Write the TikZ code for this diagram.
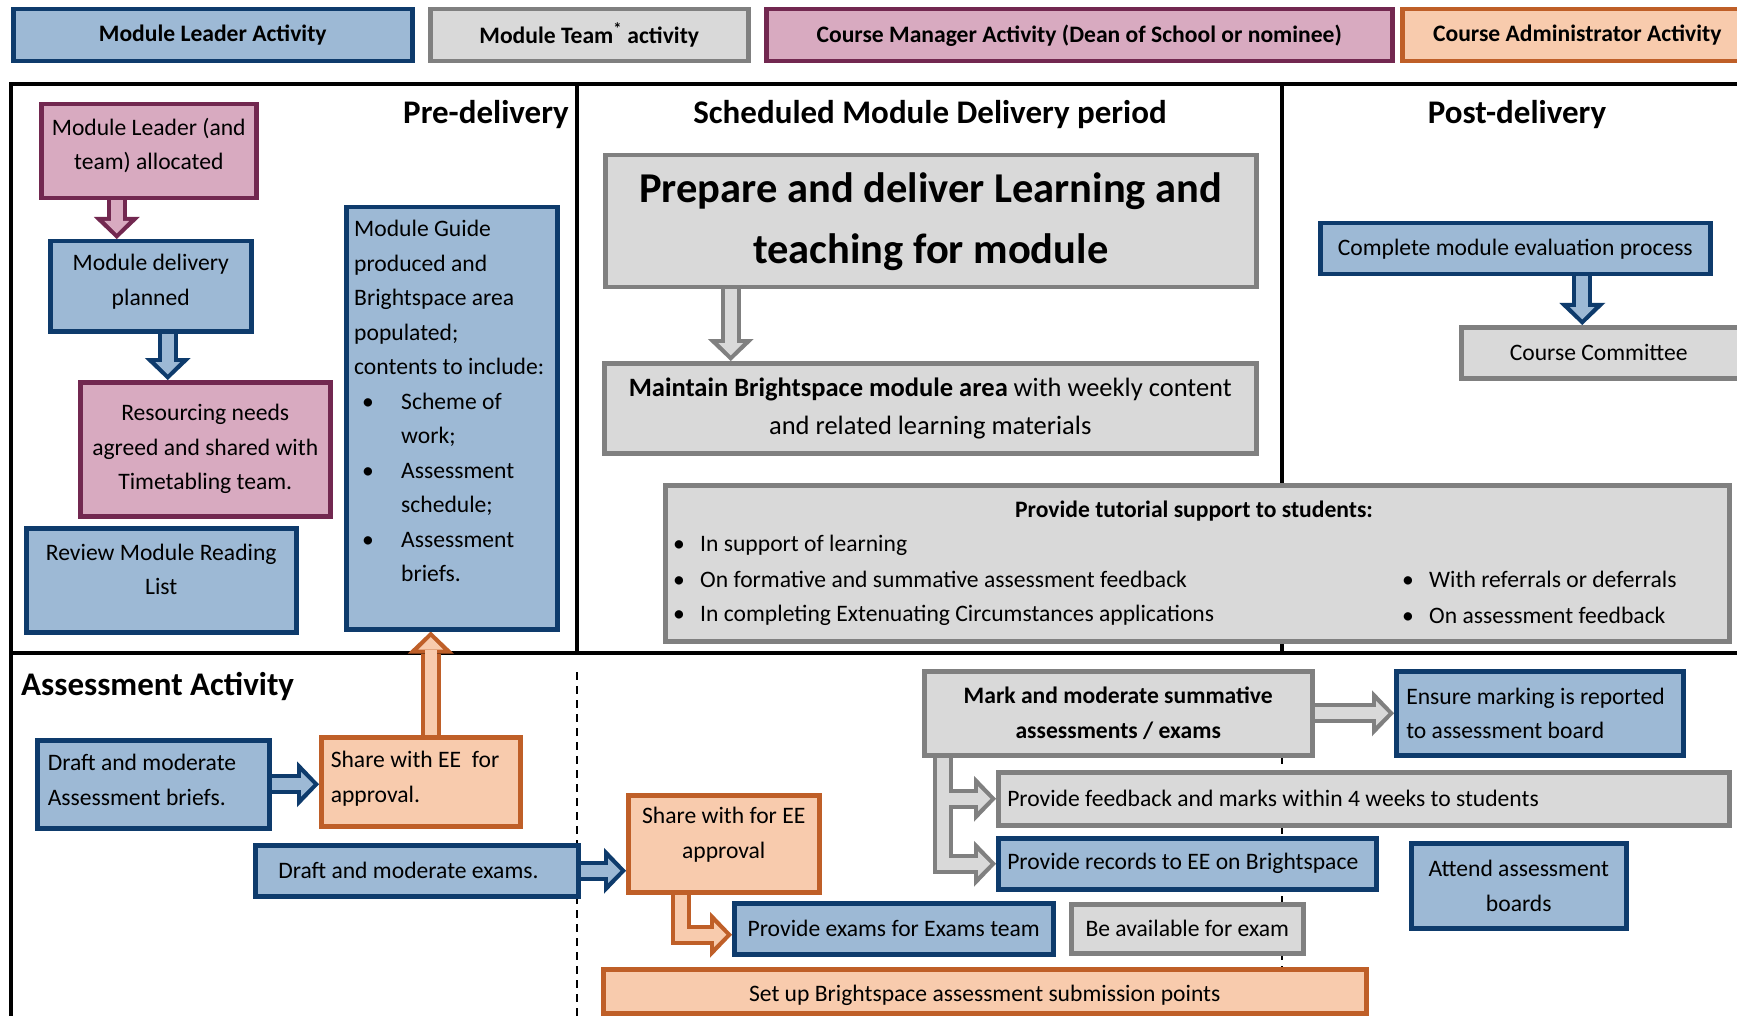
\documentclass[tikz,border=0pt]{standalone}
\usepackage{fontspec}
\setmainfont{Carlito}
\usetikzlibrary{arrows.meta}
\pgfdeclarelayer{back}
\pgfdeclarelayer{links}
\pgfsetlayers{back,links,main}

\definecolor{leadfill}{HTML}{9DB9D5}
\definecolor{leadline}{HTML}{0E3B6C}
\definecolor{teamfill}{HTML}{D9D9D9}
\definecolor{teamline}{HTML}{808080}
\definecolor{mgrfill}{HTML}{D8AAC0}
\definecolor{mgrline}{HTML}{722850}
\definecolor{adminfill}{HTML}{F8CBAD}
\definecolor{adminline}{HTML}{BF5F28}

% fat outlined arrow: border pass, then fill pass
\newcommand{\blockarrow}[3]{%
  \draw[arrowedge=#2] #3;
  \draw[arrowbody=#1] #3;}
\newcommand{\guidebullet}{\hspace*{8pt}\makebox[39pt][l]{\textbullet}}
\newcommand{\guideindent}{\hspace*{47pt}}
\newcommand{\tutorbullet}{\makebox[27pt][l]{\textbullet}}
% extra depth on a last line, lifts the text in its box
\newcommand{\lift}[1]{\rule[-#1]{0pt}{#1}}

\tikzset{
  actbox/.style={draw, line width=4.5pt, anchor=north west, inner sep=0pt,
    align=center, font=\fontsize{23.6}{34.5}\selectfont},
  boxsize/.style 2 args={minimum width=#1, minimum height=#2},
  leader/.style={actbox, fill=leadfill, draw=leadline},
  team/.style={actbox, fill=teamfill, draw=teamline},
  manager/.style={actbox, fill=mgrfill, draw=mgrline},
  admin/.style={actbox, fill=adminfill, draw=adminline},
  keytext/.style={font=\fontsize{23.6}{34.5}\selectfont\bfseries},
  arrowedge/.style={draw=#1, line width=20pt, line join=miter,
    -{Triangle[length=22pt,width=46pt,line width=0pt]}},
  arrowbody/.style={draw=#1, line width=12pt, line join=miter, shorten >=5.7pt,
    -{Triangle[length=12.3pt,width=24.6pt,line width=0pt]}},
  frameline/.style={line width=4.4pt, line join=miter},
  phaseline/.style={line width=2pt, dash pattern=on 8pt off 6pt},
  heading/.style={font=\fontsize{33}{40}\selectfont\bfseries, inner sep=0pt},
  bodytext/.style={font=\fontsize{23.6}{34.5}\selectfont, inner sep=0pt},
}

\begin{document}
\begin{tikzpicture}[x=1pt,y=-1pt]
\useasboundingbox (0,0) rectangle (1737,1016);

\begin{pgfonlayer}{back}
  \fill[white] (0,0) rectangle (1737,1016);
  % frame and phase dividers
  \draw[frameline] (11,1016) -- (11,84) -- (1737,84);
  \draw[frameline] (577,84) -- (577,653);
  \draw[frameline] (1282,84) -- (1282,653);
  \draw[frameline] (11,653) -- (1737,653);
  \draw[phaseline] (577,672) -- (577,1016);
  \draw[phaseline] (1282,672) -- (1282,1016);
\end{pgfonlayer}

\clip (0,0) rectangle (1737,1016);

% key
\node[leader, boxsize={399pt}{52pt}, keytext] (keyLeader) at (11,7) {Module Leader Activity};
\node[team, boxsize={318pt}{52pt}, keytext] (keyTeam) at (428,7) {Module Team\textsuperscript{*} activity};
\node[manager, boxsize={626pt}{52pt}, keytext] (keyManager) at (764,7) {Course Manager Activity (Dean of School or nominee)};
\node[admin, boxsize={350pt}{52pt}, keytext] (keyAdmin) at (1400,7) {Course Administrator Activity};

% phase titles
\node[heading, anchor=base east] (preTitle) at (569,124) {Pre-delivery};
\node[heading, anchor=base] (deliveryTitle) at (930,124) {Scheduled Module Delivery period};
\node[heading, anchor=base] (postTitle) at (1517,124) {Post-delivery};
\node[heading, anchor=base west] (assessTitle) at (21,695) {Assessment Activity};

% pre-delivery
\node[manager, boxsize={215pt}{94pt}] (alloc) at (39,102) {Module Leader (and\\team) allocated\lift{15pt}};
\node[leader, boxsize={201pt}{90pt}] (planned) at (48,239) {Module delivery\\planned\lift{13pt}};
\node[manager, boxsize={250pt}{134pt}] (resourcing) at (78,380) {Resourcing needs\\agreed and shared with\\Timetabling team.};
\node[leader, boxsize={270pt}{104pt}] (reading) at (24,526) {Review Module Reading\\List\lift{22pt}};
\node[leader, boxsize={211pt}{422pt}] (guide) at (344,205) {};
\node[bodytext, anchor=north west, align=left] (guideText) at ([xshift=10pt,yshift=-15pt]guide.north west)
  {Module Guide\\produced and\\Brightspace area\\populated;\\contents to include:\\
   \guidebullet Scheme of\\\guideindent work;\\
   \guidebullet Assessment\\\guideindent schedule;\\
   \guidebullet Assessment\\\guideindent briefs.};

% delivery period
\node[team, boxsize={651pt}{132pt}, font=\fontsize{42.5}{61}\selectfont\bfseries] (prepare) at (603,153)
  {Prepare and deliver Learning and\\teaching for module};
\node[team, boxsize={652pt}{90pt}, font=\fontsize{26.5}{38}\selectfont] (maintain) at (602,361)
  {\textbf{Maintain Brightspace module area} with weekly content\\and related learning materials};
\node[team, boxsize={1064pt}{156pt}] (tutor) at (663,483) {};
\node[bodytext] (tutorTitle) at (1194,511) {\textbf{Provide tutorial support to students:}};
\node[bodytext, anchor=west] (tutorLearning) at (673,545) {\tutorbullet In support of learning};
\node[bodytext, anchor=west] (tutorFeedback) at (673,579) {\tutorbullet On formative and summative assessment feedback};
\node[bodytext, anchor=west] (tutorCircs) at (673,615) {\tutorbullet In completing Extenuating Circumstances applications};
\node[bodytext, anchor=west] (tutorReferrals) at (1402,579) {\tutorbullet With referrals or deferrals};
\node[bodytext, anchor=west] (tutorAssess) at (1402,615) {\tutorbullet On assessment feedback};

% post-delivery
\node[leader, boxsize={390pt}{51pt}] (evaluate) at (1318,221) {Complete module evaluation process};
\node[team, boxsize={289pt}{51pt}] (committee) at (1459,325) {Course Committee\hspace*{14pt}};

% assessment activity
\node[leader, boxsize={232pt}{88pt}, align=flush left, text width=211pt] (briefs) at (35,738)
  {Draft and moderate\\Assessment briefs.\lift{9pt}};
\node[admin, boxsize={199pt}{89pt}, align=flush left, text width=180pt] (shareA) at (319,735)
  {Share with EE~ for\\approval.\lift{10pt}};
\node[leader, boxsize={323pt}{51pt}, align=flush left, text width=277pt] (exams) at (253,843)
  {\mbox{Draft and moderate exams.}};
\node[admin, boxsize={191pt}{97pt}] (shareB) at (626,793) {Share with for EE\\approval\lift{22pt}};
\node[leader, boxsize={319pt}{51pt}] (provide) at (732,901) {Provide exams for Exams team};
\node[team, boxsize={232pt}{49pt}] (available) at (1069,902) {Be available for exam};
\node[admin, boxsize={763pt}{44pt}] (submit) at (601,967) {\rule{0pt}{24pt}Set up Brightspace assessment submission points};
\node[team, boxsize={388pt}{84pt}, font=\fontsize{23.6}{34.5}\selectfont\bfseries] (mark) at (922,669)
  {Mark and moderate summative\\assessments / exams};
\node[leader, boxsize={287pt}{84pt}, align=flush left, text width=267pt] (ensure) at (1394,669)
  {Ensure marking is reported\\to assessment board};
\node[team, boxsize={731pt}{53pt}, align=flush left, text width=713pt] (feedback) at (996,770)
  {Provide feedback and marks within 4 weeks to students};
\node[leader, boxsize={378pt}{51pt}, align=flush left, text width=360pt] (records) at (996,836)
  {\mbox{Provide records to EE on Brightspace}};
\node[leader, boxsize={215pt}{85pt}] (attend) at (1409,841) {Attend assessment\\boards};

% block arrows sit under the boxes
\begin{pgfonlayer}{links}
  \blockarrow{mgrfill}{mgrline}{([xshift=-32pt]alloc.south) -- ([xshift=-32pt]alloc.south |- planned.north)}
  \blockarrow{leadfill}{leadline}{([xshift=17pt]planned.south) -- ([xshift=17pt]planned.south |- resourcing.north)}
  \blockarrow{teamfill}{teamline}{([xshift=-200pt]prepare.south) -- ([xshift=-200pt]prepare.south |- maintain.north)}
  \blockarrow{leadfill}{leadline}{([xshift=67pt]evaluate.south) -- ([xshift=67pt]evaluate.south |- committee.north)}
  \blockarrow{leadfill}{leadline}{(briefs.east) -- (briefs.east -| shareA.west)}
  \blockarrow{adminfill}{adminline}{([xshift=10pt]shareA.north) -- ([xshift=10pt]shareA.north |- guide.south)}
  \blockarrow{leadfill}{leadline}{(exams.east) -- (exams.east -| shareB.west)}
  \blockarrow{adminfill}{adminline}{([xshift=-43pt]shareB.south) |- ([yshift=-6pt]provide.west)}
  \blockarrow{teamfill}{teamline}{(mark.east) -- (mark.east -| ensure.west)}
  % branching arrow: both borders first, then both fills
  \draw[arrowedge=teamline] ([xshift=21pt]mark.south west) |- (feedback.west);
  \draw[arrowedge=teamline] ([xshift=21pt]mark.south west) |- (records.west);
  \draw[arrowbody=teamfill] ([xshift=21pt]mark.south west) |- (feedback.west);
  \draw[arrowbody=teamfill] ([xshift=21pt]mark.south west) |- (records.west);
\end{pgfonlayer}
\end{tikzpicture}
\end{document}
